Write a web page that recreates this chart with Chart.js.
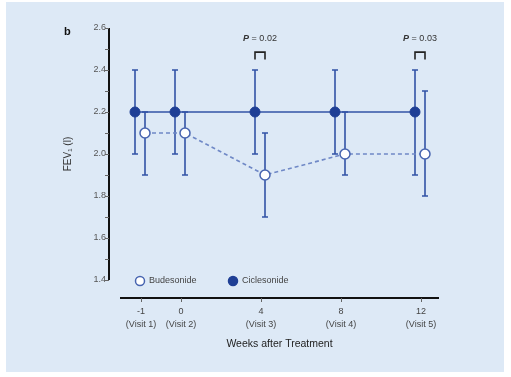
<!DOCTYPE html>
<html><head><meta charset="utf-8">
<script src="https://cdn.jsdelivr.net/npm/chart.js@4.4.1/dist/chart.umd.min.js"></script>
<style>html,body{margin:0;padding:0;background:#fff}#wrap{width:511px;height:377px}</style>
</head><body><div id="wrap"><canvas id="c" width="511" height="377"></canvas></div>
<script>
const weekLabels = ["-1", "0", "4", "8", "12"];
const visitLabels = ["(Visit 1)", "(Visit 2)", "(Visit 3)", "(Visit 4)", "(Visit 5)"];
const xPositions = [-2, 0, 4, 8, 12];
const ciclesonide = [2.2, 2.2, 2.2, 2.2, 2.2];
const ciclesonideLow = [2.0, 2.0, 2.0, 2.0, 1.9];
const ciclesonideHigh = [2.4, 2.4, 2.4, 2.4, 2.4];
const budesonide = [2.1, 2.1, 1.9, 2.0, 2.0];
const budesonideLow = [1.9, 1.9, 1.7, 1.9, 1.8];
const budesonideHigh = [2.2, 2.2, 2.1, 2.2, 2.3];
const pValues = [{at: 4, label: "0.02"}, {at: 12, label: "0.03"}];
const yTicks = [1.4, 1.6, 1.8, 2.0, 2.2, 2.4, 2.6];

const CIC_SHIFT = -0.3, BUD_SHIFT = 0.2;
const FONT = "'Liberation Sans', Arial, sans-serif";

const cicPts = ciclesonide.map((v, i) => ({x: xPositions[i] + CIC_SHIFT, y: v}));
const budPts = budesonide.map((v, i) => ({x: xPositions[i] + BUD_SHIFT, y: v}));

const decor = {
  id: 'decor',
  beforeDraw(chart) {
    const ctx = chart.ctx;
    ctx.save();
    ctx.fillStyle = '#fff';
    ctx.fillRect(0, 0, chart.width, chart.height);
    ctx.fillStyle = '#dde9f6';
    ctx.fillRect(6, 2, 498, 370);
    ctx.restore();
  },
  beforeDatasetsDraw(chart) {
    const ctx = chart.ctx, xs = chart.scales.x, ys = chart.scales.y;
    ctx.save();
    ctx.strokeStyle = '#3253a6';
    ctx.lineWidth = 1.6;
    const bar = (x, lo, hi) => {
      const px = xs.getPixelForValue(x), p1 = ys.getPixelForValue(lo), p2 = ys.getPixelForValue(hi);
      ctx.beginPath();
      ctx.moveTo(px, p1); ctx.lineTo(px, p2);
      ctx.moveTo(px - 3, p1); ctx.lineTo(px + 3, p1);
      ctx.moveTo(px - 3, p2); ctx.lineTo(px + 3, p2);
      ctx.stroke();
    };
    xPositions.forEach((x, i) => {
      bar(x + CIC_SHIFT, ciclesonideLow[i], ciclesonideHigh[i]);
      bar(x + BUD_SHIFT, budesonideLow[i], budesonideHigh[i]);
    });
    ctx.restore();
  },
  afterDraw(chart) {
    const ctx = chart.ctx, xs = chart.scales.x, ys = chart.scales.y, ca = chart.chartArea;
    ctx.save();
    const axX = ca.left - 11, axY = ca.bottom + 18;
    ctx.strokeStyle = '#111';
    ctx.lineWidth = 2;
    ctx.beginPath();
    ctx.moveTo(axX, ys.getPixelForValue(2.6)); ctx.lineTo(axX, ys.getPixelForValue(1.4));
    ctx.moveTo(ca.left, axY); ctx.lineTo(ca.right, axY);
    ctx.stroke();
    ctx.strokeStyle = '#666';
    ctx.lineWidth = 1;
    ctx.beginPath();
    for (let v = 1.4; v <= 2.601; v += 0.1) {
      const py = Math.round(ys.getPixelForValue(v)) + 0.5;
      ctx.moveTo(axX - 4, py); ctx.lineTo(axX, py);
    }
    xPositions.forEach(x => {
      const px = Math.round(xs.getPixelForValue(x)) + 0.5;
      ctx.moveTo(px, axY); ctx.lineTo(px, axY + 4);
    });
    ctx.stroke();
    ctx.strokeStyle = '#222';
    ctx.lineWidth = 1.6;
    pValues.forEach(p => {
      const x1 = xs.getPixelForValue(p.at + CIC_SHIFT), x2 = xs.getPixelForValue(p.at + BUD_SHIFT);
      const yt = ys.getPixelForValue(2.485), yb = ys.getPixelForValue(2.45);
      ctx.beginPath();
      ctx.moveTo(x1, yb); ctx.lineTo(x1, yt); ctx.lineTo(x2, yt); ctx.lineTo(x2, yb);
      ctx.stroke();
      const cx = (x1 + x2) / 2, ty = ys.getPixelForValue(2.552);
      ctx.textBaseline = 'middle';
      ctx.fillStyle = '#333';
      ctx.font = 'italic bold 9px ' + FONT;
      const pW = ctx.measureText('P').width;
      ctx.font = '9px ' + FONT;
      const rest = ' = ' + p.label;
      const rW = ctx.measureText(rest).width;
      const sx = cx - (pW + rW) / 2;
      ctx.textAlign = 'left';
      ctx.font = 'italic bold 9px ' + FONT;
      ctx.fillText('P', sx, ty);
      ctx.font = '9px ' + FONT;
      ctx.fillText(rest, sx + pW, ty);
    });
    ctx.fillStyle = '#111';
    ctx.font = 'bold 11px ' + FONT;
    ctx.textAlign = 'left';
    ctx.textBaseline = 'middle';
    ctx.fillText('b', 64, 32);
    const ly = ys.getPixelForValue(1.4) + 1;
    const items = [
      {ds: chart.data.datasets[1], x: 140},
      {ds: chart.data.datasets[0], x: 233}
    ];
    items.forEach(it => {
      ctx.beginPath();
      ctx.arc(it.x, ly, 4.5, 0, Math.PI * 2);
      ctx.fillStyle = it.ds.pointBackgroundColor;
      ctx.fill();
      ctx.lineWidth = 1.5;
      ctx.strokeStyle = it.ds.pointBorderColor;
      ctx.stroke();
      ctx.fillStyle = '#444';
      ctx.font = '9px ' + FONT;
      ctx.textAlign = 'left';
      ctx.fillText(it.ds.label, it.x + 9, ly);
    });
    ctx.restore();
  }
};

new Chart(document.getElementById('c'), {
  type: 'scatter',
  data: {
    datasets: [
      {
        label: 'Ciclesonide', data: cicPts, showLine: true,
        borderColor: '#3253a6', borderWidth: 1.6,
        pointRadius: 5, pointHoverRadius: 5,
        pointBackgroundColor: '#1f3f95', pointBorderColor: '#1f3f95', pointBorderWidth: 1
      },
      {
        label: 'Budesonide', data: budPts, showLine: true,
        borderColor: '#6f88c6', borderWidth: 1.6, borderDash: [4, 3],
        pointRadius: 5, pointHoverRadius: 5,
        pointBackgroundColor: '#ffffff', pointBorderColor: '#4764b0', pointBorderWidth: 1.5
      }
    ]
  },
  options: {
    responsive: false, animation: false, devicePixelRatio: 1,
    layout: {padding: {left: 0, right: 72, top: 28, bottom: 0}},
    plugins: {legend: {display: false}, tooltip: {enabled: false}},
    scales: {
      x: {
        type: 'linear', min: -3.05, max: 12.9,
        grid: {display: false, drawTicks: false}, border: {display: false},
        afterBuildTicks: s => { s.ticks = xPositions.map(v => ({value: v})); },
        afterFit: s => { s.height = 97; },
        ticks: {
          autoSkip: false, maxRotation: 0, padding: 25,
          color: '#444', font: {family: FONT, size: 9, lineHeight: 1.45},
          callback: (v) => { const i = xPositions.indexOf(v); return i < 0 ? '' : [weekLabels[i], visitLabels[i]]; }
        },
        title: {display: true, text: 'Weeks after Treatment', color: '#222',
          font: {family: FONT, size: 10.5}, padding: {top: 27, bottom: 27}}
      },
      y: {
        type: 'linear', min: 1.4, max: 2.6,
        grid: {display: false, drawTicks: false}, border: {display: false},
        afterBuildTicks: s => { s.ticks = yTicks.map(v => ({value: v})); },
        afterFit: s => { s.width = 120; },
        ticks: {padding: 14, color: '#555', font: {family: FONT, size: 9},
          callback: v => v.toFixed(1)},
        title: {display: true, text: 'FEV\u2081 (l)', color: '#333',
          font: {family: FONT, size: 10}, padding: {top: 62, bottom: 62}}
      }
    }
  },
  plugins: [decor]
});
</script></body></html>
